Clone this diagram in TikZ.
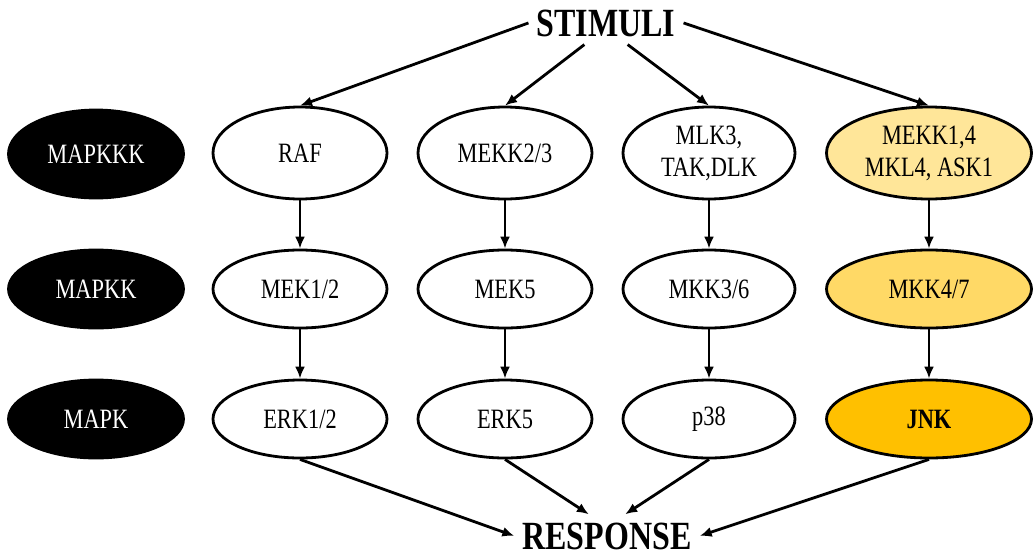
\documentclass[tikz,border=0pt]{standalone}
\usepackage{fontspec}
\setmainfont[FakeStretch=0.8]{Liberation Serif}
\usepackage{tikz}
\usetikzlibrary{shapes}
\usetikzlibrary{arrows.meta}
\usetikzlibrary{positioning}
\definecolor{kkkyellow}{HTML}{FFE699}
\definecolor{kkyellow}{HTML}{FFD966}
\definecolor{kyellow}{HTML}{FFC000}
\tikzstyle{level}=[ellipse, draw, line width=2.8pt, minimum width=174pt, minimum height=78pt, inner sep=0pt, align=center, font=\fontsize{28}{32}\selectfont]
\tikzstyle{tier}=[level, fill=black, text=white, minimum width=175pt]
\tikzstyle{title}=[inner sep=8pt, font=\fontsize{40}{42}\selectfont\bfseries]
\tikzstyle{arrow}=[-{Latex[length=12pt,width=10pt]}, line width=2.8pt]
\tikzset{every picture/.style={
    x=1pt, y=-1pt
  }
}
\begin{document}
\begin{tikzpicture}
        \useasboundingbox (0,0) rectangle (1033,557);
        \node[title, anchor=base] at (606,36) (stimuli) {STIMULI};
        \node[title, anchor=base] at (607,549) (response) {RESPONSE};
        \node[tier, minimum height=88pt] at (96,154) (mapkkk) {MAPKKK};
        \node[tier] at (96,289) (mapkk) {MAPKK};
        \node[tier] at (96,419) (mapk) {MAPK};
        \node[level, minimum height=92pt] at (300,153) (raf) {RAF};
        \node[level, minimum height=92pt] at (505,153) (mekk23) {MEKK2/3};
        \node[level, minimum height=92pt, minimum width=172pt] at (709,153) (mlk3) {MLK3,\\TAK,DLK};
        \node[level, minimum height=92pt, minimum width=205pt, fill=kkkyellow] at (929,153) (mekk14) {MEKK1,4\\MKL4, ASK1};
        \node[level] at (300,289) (mek12) {MEK1/2};
        \node[level] at (505,289) (mek5) {MEK5};
        \node[level, minimum width=172pt] at (709,289) (mkk36) {MKK3/6};
        \node[level, minimum width=205pt, fill=kkyellow] at (929,289) (mkk47) {MKK4/7};
        \node[level] at (300,419) (erk12) {ERK1/2};
        \node[level] at (505,419) (erk5) {ERK5};
        \node[level, minimum width=172pt] at (709,419) (p38) {p38};
        \node[level, minimum width=205pt, fill=kyellow] at (929,419) (jnk) {\bfseries JNK};
        \draw[arrow] (stimuli.west) -- (raf.north);
        \draw[arrow] (stimuli.225) -- (mekk23.north);
        \draw[arrow] (stimuli.315) -- (mlk3.north);
        \draw[arrow] (stimuli.east) -- (mekk14.north);
        \draw[arrow] (raf) -- (mek12);
        \draw[arrow] (mekk23) -- (mek5);
        \draw[arrow] (mlk3) -- (mkk36);
        \draw[arrow] (mekk14) -- (mkk47);
        \draw[arrow] (mek12) -- (erk12);
        \draw[arrow] (mek5) -- (erk5);
        \draw[arrow] (mkk36) -- (p38);
        \draw[arrow] (mkk47) -- (jnk);
        \draw[arrow] (erk12.south) -- (response.west);
        \draw[arrow] (erk5.south) -- (response.130);
        \draw[arrow] (p38.south) -- (response.50);
        \draw[arrow] (jnk.south) -- (response.east);
      \end{tikzpicture}
\end{document}
